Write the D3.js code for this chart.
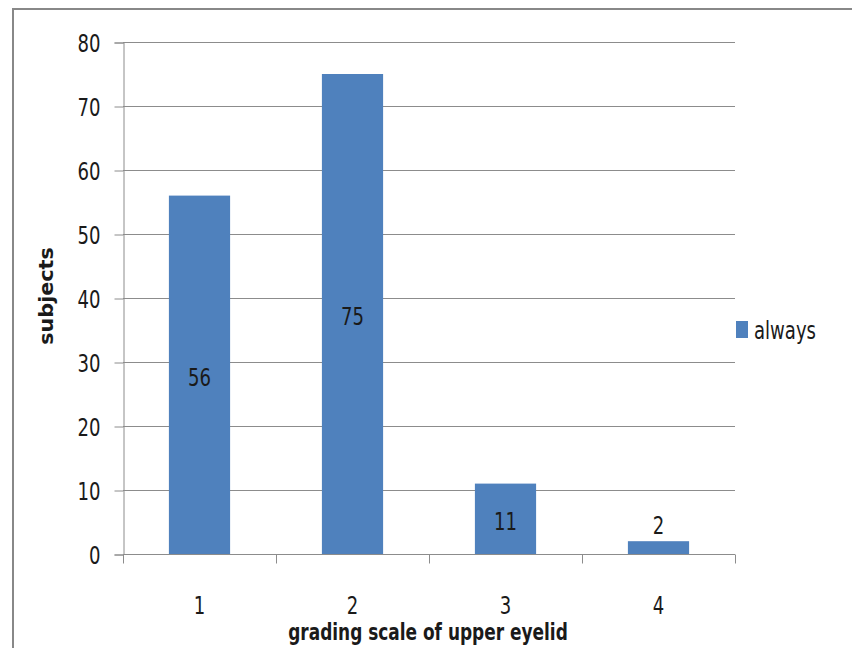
<!DOCTYPE html>
<html>
<head>
<meta charset="utf-8">
<script src="https://cdn.jsdelivr.net/npm/d3@7"></script>
<style>
  html, body { margin: 0; padding: 0; background: #fff; }
  svg { display: block; }
  text { font-family: "DejaVu Sans Condensed", "Open Sans", sans-serif; fill: #1a1a1a; }
</style>
</head>
<body>
<svg id="chart" width="852" height="648"></svg>
<script>
// Upper-eyelid grading scale vs. number of subjects
const categories = ["1", "2", "3", "4"];
const always = [56, 75, 11, 2];
const yTicks = [0, 10, 20, 30, 40, 50, 60, 70, 80];
const seriesName = "always";
const xTitle = "grading scale of upper eyelid";
const yTitle = "subjects";

const W = 852, H = 648;
const plot = { left: 123, right: 735, top: 42, bottom: 554 };
const barColor = "#4F81BD";
const gridColor = "#8c8c8c";
const labelSize = 24.5;
const titleSize = 23;
const squeeze = 0.82; // narrow, tall lettering

// place a text element at (px, py) with the narrow lettering applied
function place(sel, px, py, rot) {
  sel.attr("x", 0).attr("y", 0)
    .attr("transform", `translate(${px},${py}) scale(${squeeze},1)` + (rot ? ` rotate(${rot})` : ""));
}

const svg = d3.select("#chart");

// outer chart frame (left and top edges visible)
svg.append("path")
  .attr("d", `M13,${H} L13,9 L${W},9`)
  .attr("fill", "none")
  .attr("stroke", "#888")
  .attr("stroke-width", 2);

const x = d3.scaleBand()
  .domain(categories)
  .range([plot.left, plot.right])
  .paddingInner(0.6)
  .paddingOuter(0.3);

const y = d3.scaleLinear()
  .domain([0, 80])
  .range([plot.bottom, plot.top]);

// horizontal gridlines
svg.append("g")
  .selectAll("line")
  .data(yTicks)
  .join("line")
  .attr("x1", plot.left)
  .attr("x2", plot.right)
  .attr("y1", d => y(d) + 0.5)
  .attr("y2", d => y(d) + 0.5)
  .attr("stroke", gridColor)
  .attr("stroke-width", 1);

// y axis
const yAxis = svg.append("g")
  .attr("transform", `translate(${plot.left + 0.5},0.5)`)
  .call(d3.axisLeft(y).tickValues(yTicks).tickSize(9).tickPadding(14));
yAxis.select(".domain").attr("stroke", gridColor);
yAxis.selectAll(".tick line").attr("stroke", gridColor);
yAxis.selectAll(".tick text")
  .attr("font-size", labelSize)
  .attr("fill", "#1a1a1a")
  .attr("font-family", null)
  .attr("dy", null)
  .attr("dominant-baseline", "central")
  .each(function () {
    const t = d3.select(this);
    place(t, -23, 0);
  });

// bars
svg.append("g")
  .selectAll("rect")
  .data(always)
  .join("rect")
  .attr("x", (d, i) => x(categories[i]))
  .attr("width", x.bandwidth())
  .attr("y", d => y(d))
  .attr("height", d => y(0) - y(d))
  .attr("fill", barColor);

// x axis with ticks at category boundaries
const xAxisG = svg.append("g")
  .attr("transform", `translate(0,${plot.bottom + 0.5})`);
xAxisG.append("line")
  .attr("x1", plot.left).attr("x2", plot.right)
  .attr("stroke", gridColor);
const boundaries = categories.map(c => x(c) - x.step() * x.paddingInner() / 2).concat([plot.right]);
boundaries[0] = plot.left;
xAxisG.selectAll("line.tick")
  .data(boundaries)
  .join("line")
  .attr("class", "tick")
  .attr("x1", d => Math.round(d) + 0.5).attr("x2", d => Math.round(d) + 0.5)
  .attr("y1", 0).attr("y2", 9)
  .attr("stroke", gridColor);
xAxisG.selectAll("text")
  .data(categories)
  .join("text")
  .attr("text-anchor", "middle")
  .attr("dominant-baseline", "central")
  .attr("font-size", labelSize)
  .text(d => d)
  .each(function (d) {
    place(d3.select(this), x(d) + x.bandwidth() / 2, 51);
  });

// value labels: centred in the bar, or just above it when the bar is short
svg.append("g")
  .selectAll("text")
  .data(always)
  .join("text")
  .attr("text-anchor", "middle")
  .attr("dominant-baseline", "central")
  .attr("font-size", labelSize)
  .text(d => d)
  .each(function (d, i) {
    const cy = (y(0) - y(d) > 30) ? y(d / 2) + 2 : y(d) - 16;
    place(d3.select(this), x(categories[i]) + x.bandwidth() / 2, cy);
  });

// axis titles
place(svg.append("text")
  .attr("text-anchor", "middle")
  .attr("dominant-baseline", "central")
  .attr("font-size", titleSize)
  .attr("font-weight", "bold")
  .text(xTitle), 428, 632);

place(svg.append("text")
  .attr("text-anchor", "middle")
  .attr("dominant-baseline", "central")
  .attr("font-size", titleSize)
  .attr("font-weight", "bold")
  .text(yTitle), 46, 296, -90);

// legend
const legend = svg.append("g").attr("transform", "translate(736,321)");
legend.append("rect")
  .attr("width", 12).attr("height", 17)
  .attr("fill", barColor);
place(legend.append("text")
  .attr("dominant-baseline", "central")
  .attr("font-size", labelSize)
  .text(seriesName), 18, 9);
</script>
</body>
</html>
